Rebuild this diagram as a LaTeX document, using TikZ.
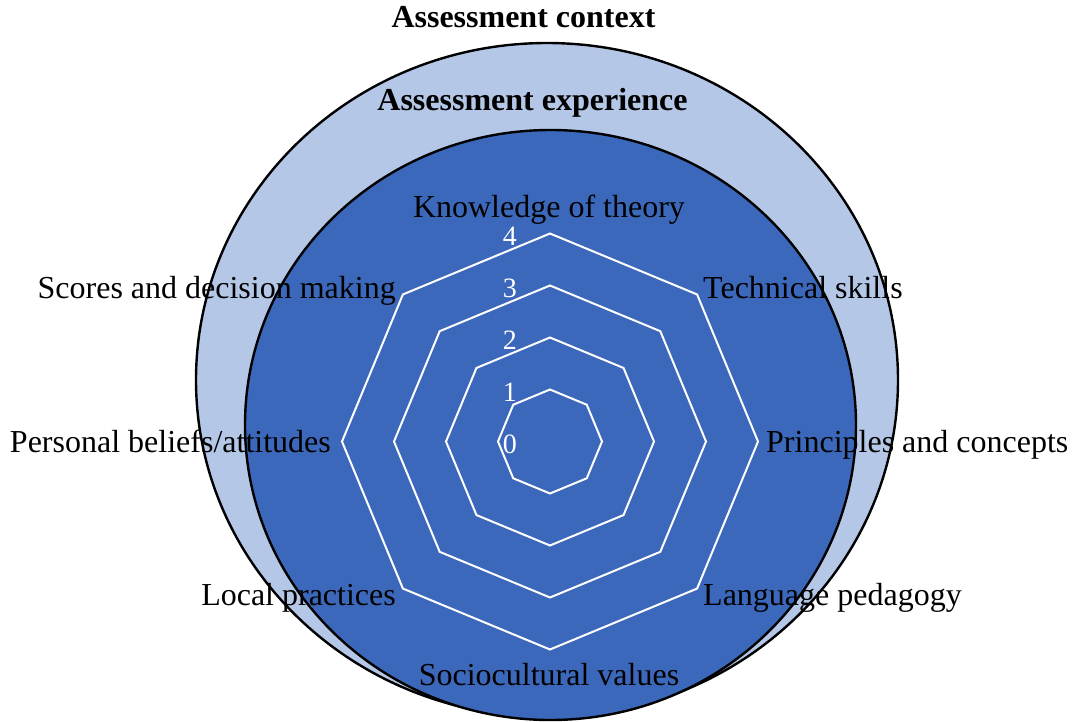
\documentclass[tikz,border=0pt]{standalone}
\usepackage{fontspec}
\setmainfont{Liberation Serif}
\usetikzlibrary{calc, positioning}

\definecolor{contextblue}{RGB}{180,199,231}
\definecolor{experienceblue}{RGB}{60,104,188}

\begin{document}
\begin{tikzpicture}[x=1pt, y=-1pt]

    \tikzset
    {
        font={\fontsize{32}{38}\selectfont},
        axislabel/.style={inner sep=0pt, text=black},
        titlelabel/.style={inner sep=0pt, anchor=base, font={\fontsize{32}{38}\selectfont\bfseries}},
        levellabel/.style={inner sep=0pt, anchor=base east, text=white, font={\fontsize{28}{33}\selectfont}},
        radargrid/.style={white, line width=2pt, line join=miter},
        ring/.style={draw=black, line width=2.4pt}
    }

    \useasboundingbox (0,0) rectangle (1072,721);

    \draw[ring, fill=contextblue] (547,380) ellipse [x radius=351, y radius=337];
    \draw[ring, fill=experienceblue] (550.5,425) ellipse [x radius=305.5, y radius=295];

    \coordinate (centre) at (550,441.5);
    \pgfmathsetmacro{\levelstep}{52}

    \foreach \level in {1,...,4}
    {
        \pgfmathsetmacro{\r}{\level*\levelstep}
        \draw[radargrid, shift={(centre)}] (0:\r) -- (45:\r) -- (90:\r) -- (135:\r) -- (180:\r) -- (225:\r) -- (270:\r) -- (315:\r) -- cycle;
    }

    \foreach \level in {0,...,4}
    {
        \node[levellabel] (level\level) at (517,{453-\level*\levelstep}) {\level};
    }

    \node[axislabel, anchor=base] (theory) at (549,217) {Knowledge of theory};
    \node[axislabel, anchor=base west] (technical) at (703,298) {Technical skills};
    \node[axislabel, anchor=base west] (principles) at (766,452) {Principles and concepts};
    \node[axislabel, anchor=base west] (pedagogy) at (703,605) {Language pedagogy};
    \node[axislabel, anchor=base] (sociocultural) at (549,685) {Sociocultural values};
    \node[axislabel, anchor=base east] (local) at (396,605) {Local practices};
    \node[axislabel, anchor=base east] (beliefs) at (331,452) {Personal beliefs/attitudes};
    \node[axislabel, anchor=base east] (scores) at (396,298) {Scores and decision making};

    \node[titlelabel] (context) at (523.5,27) {Assessment context};
    \node[titlelabel] (experience) at (532.5,110) {Assessment experience};

\end{tikzpicture}
\end{document}
